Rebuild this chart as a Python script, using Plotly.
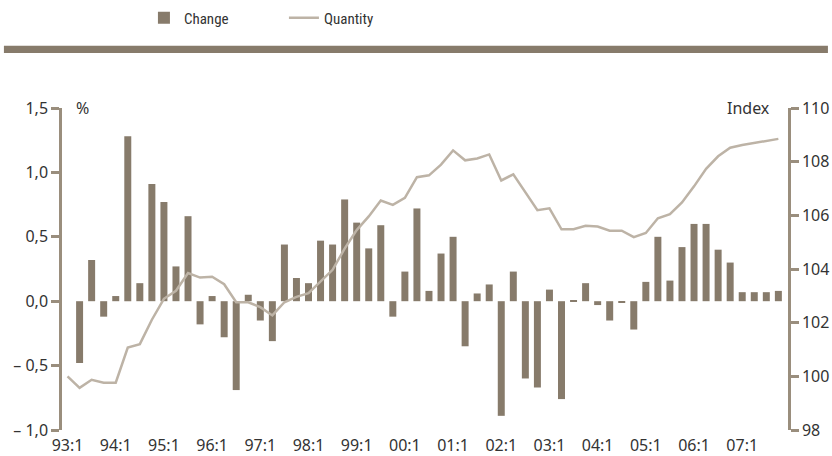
import plotly.graph_objects as go

# quarters 93:1 .. 07:4
quarters = [f"{(93 + i // 4) % 100:02d}:{i % 4 + 1}" for i in range(60)]
tick_labels = ["93:1", "94:1", "95:1", "96:1", "97:1", "98:1", "99:1", "00:1",
               "01:1", "02:1", "03:1", "04:1", "05:1", "06:1", "07:1"]

# quarterly change, % (first quarter has no value)
change = [None,
          -0.48, 0.32, -0.12, 0.04, 1.28, 0.14, 0.91, 0.77, 0.27, 0.66,
          -0.18, 0.04, -0.28, -0.69, 0.05, -0.15, -0.31, 0.44, 0.18, 0.14,
          0.47, 0.44, 0.79, 0.61, 0.41, 0.59, -0.12, 0.23, 0.72, 0.08,
          0.37, 0.50, -0.35, 0.06, 0.13, -0.89, 0.23, -0.60, -0.67, 0.09,
          -0.76, 0.005, 0.14, -0.03, -0.15, -0.01, -0.22, 0.15, 0.50, 0.16,
          0.42, 0.60, 0.60, 0.40, 0.30, 0.07, 0.07, 0.07, 0.08]

# quantity index
quantity = [100.0, 99.57, 99.87, 99.76, 99.76, 101.07, 101.2, 102.11, 102.89, 103.19,
            103.85, 103.68, 103.71, 103.43, 102.76, 102.76, 102.58, 102.27, 102.76, 102.96,
            103.1, 103.52, 103.97, 104.76, 105.45, 105.96, 106.55, 106.39, 106.65, 107.42,
            107.49, 107.89, 108.42, 108.05, 108.12, 108.27, 107.3, 107.53, 106.84, 106.19,
            106.26, 105.48, 105.48, 105.61, 105.58, 105.43, 105.43, 105.19, 105.34, 105.89,
            106.04, 106.48, 107.08, 107.73, 108.2, 108.52, 108.62, 108.7, 108.77, 108.85]

left_ticks = [1.5, 1.0, 0.5, 0.0, -0.5, -1.0]
left_labels = ["1,5", "1,0", "0,5", "0,0", "– 0,5", "– 1,0"]

bar_color = "#877b6b"
line_color = "#bdb3a6"
axis_color = "#9a8e7d"
text_color = "#333333"

x = list(range(len(quarters)))

fig = go.Figure()
fig.add_trace(go.Bar(
    x=x, y=change, name="Change",
    marker=dict(color=bar_color, line=dict(width=0)),
    width=0.58,
))
fig.add_trace(go.Scatter(
    x=x, y=quantity, name="Quantity", yaxis="y2",
    mode="lines", line=dict(color=line_color, width=2.5),
))

# thick rule under the legend
fig.add_shape(type="rect", xref="paper", yref="paper",
              x0=-0.08, x1=1.055, y0=1.171, y1=1.193,
              fillcolor=bar_color, line=dict(width=0), layer="below")

fig.add_annotation(text="%", xref="paper", yref="paper", x=0.028, y=1.0,
                   xanchor="center", yanchor="middle", showarrow=False,
                   font=dict(size=16, color=text_color))
fig.add_annotation(text="Index", xref="paper", yref="paper", x=0.946, y=1.0,
                   xanchor="center", yanchor="middle", showarrow=False,
                   font=dict(size=16, color=text_color))

fig.update_layout(
    width=832, height=456,
    margin=dict(l=62, r=44, t=108, b=26, autoexpand=False),
    plot_bgcolor="white", paper_bgcolor="white",
    font=dict(family="Noto Sans, Open Sans, sans-serif", size=16, color=text_color),
    showlegend=True,
    legend=dict(orientation="h", x=0.173, y=0.9605, xref="container", yref="container",
                xanchor="left", yanchor="middle",
                entrywidth=95, entrywidthmode="pixels",
                font=dict(family="Roboto Condensed, Liberation Sans Narrow, Roboto, sans-serif",
                          size=15),
                bgcolor="rgba(0,0,0,0)"),
    xaxis=dict(range=[-0.46, 59.8], tickmode="array",
               tickvals=[i * 4 for i in range(len(tick_labels))], ticktext=tick_labels,
               showgrid=False, zeroline=False, showline=False, ticks="",
               ticklabelstandoff=4, automargin=False),
    yaxis=dict(range=[-1.0, 1.5], tickmode="array", tickvals=left_ticks, ticktext=left_labels,
               showgrid=False, zeroline=False, showline=True, linecolor=axis_color, linewidth=2.5,
               ticks="outside", ticklen=8, tickwidth=2.5, tickcolor=axis_color,
               automargin=False),
    yaxis2=dict(range=[98, 110], overlaying="y", side="right", tickmode="array",
                tickvals=list(range(98, 111, 2)),
                showgrid=False, zeroline=False, showline=True, linecolor=axis_color, linewidth=2.5,
                ticks="outside", ticklen=8, tickwidth=2.5, tickcolor=axis_color,
                automargin=False),
)

# drop the default page margin so the 832x456 figure fills the window exactly
fig.write_html("out.html", config={"displayModeBar": False},
               post_script="document.body.style.margin = '0';")
